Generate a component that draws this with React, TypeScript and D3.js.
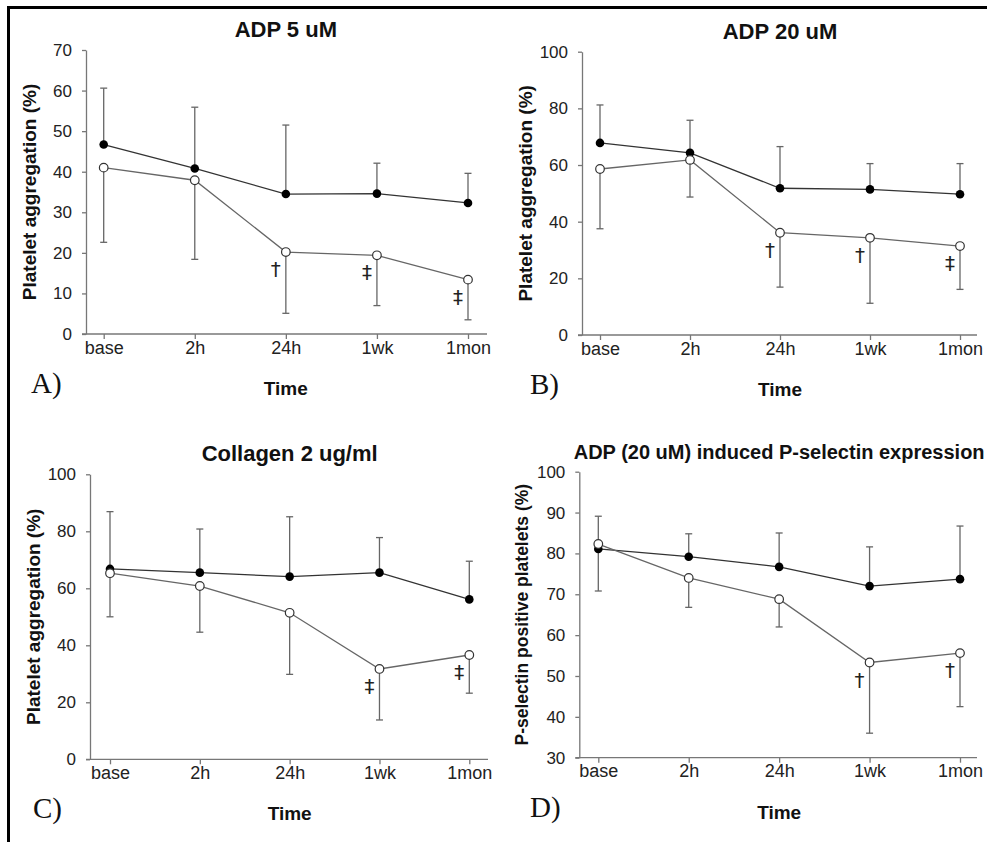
import React, { useRef, useEffect } from "react";
import { select, scalePoint, scaleLinear, axisLeft, axisBottom, line, range } from "d3";

const categories = ["base", "2h", "24h", "1wk", "1mon"];

// ADP 5 uM
const adp5Filled = [46.7, 40.8, 34.5, 34.6, 32.3];
const adp5FilledSd = [13.9, 15.1, 17.0, 7.5, 7.3];
const adp5Open = [41.0, 37.9, 20.2, 19.4, 13.4];
const adp5OpenSd = [18.4, 19.5, 15.1, 12.4, 9.9];
const adp5Marks = ["", "", "†", "‡", "‡"];
const adp5Ticks = range(0, 71, 10);

// ADP 20 uM
const adp20Filled = [67.8, 64.3, 51.8, 51.4, 49.7];
const adp20FilledSd = [13.4, 11.5, 14.7, 9.1, 10.8];
const adp20Open = [58.6, 61.8, 36.1, 34.3, 31.4];
const adp20OpenSd = [21.1, 13.1, 19.2, 23.1, 15.3];
const adp20Marks = ["", "", "†", "†", "‡"];
const adp20Ticks = range(0, 101, 20);

// Collagen 2 ug/ml
const collFilled = [66.8, 65.5, 64.1, 65.5, 56.1];
const collFilledSd = [20.1, 15.3, 21.0, 12.3, 13.4];
const collOpen = [65.3, 60.8, 51.4, 31.7, 36.6];
const collOpenSd = [15.3, 16.2, 21.6, 17.9, 13.4];
const collMarks = ["", "", "", "‡", "‡"];
const collTicks = range(0, 101, 20);

// ADP (20 uM) induced P-selectin expression
const pselFilled = [81.1, 79.2, 76.7, 72.0, 73.7];
const pselFilledSd = [8.0, 5.6, 8.3, 9.6, 13.0];
const pselOpen = [82.3, 74.0, 68.8, 53.3, 55.6];
const pselOpenSd = [11.5, 7.2, 6.8, 17.3, 13.1];
const pselMarks = ["", "", "", "†", "†"];
const pselTicks = range(30, 101, 10);

const SANS = "'Liberation Sans', Arial, sans-serif";
const SERIF = "'Liberation Serif', 'Times New Roman', serif";

const panels = [
  {
    title: "ADP 5 uM", titleSize: 22, yLabel: "Platelet aggregation (%)", yLabelSize: 19, letter: "A)",
    filled: adp5Filled, filledSd: adp5FilledSd, open: adp5Open, openSd: adp5OpenSd, marks: adp5Marks,
    ticks: adp5Ticks, domain: [0, 70],
    axisX: 86, yTop: 50, yBottom: 334, xFirst: 103.7, xLast: 468, xEnd: 487, letterX: 31,
  },
  {
    title: "ADP 20 uM", titleSize: 22, yLabel: "Platelet aggregation (%)", yLabelSize: 19, letter: "B)",
    filled: adp20Filled, filledSd: adp20FilledSd, open: adp20Open, openSd: adp20OpenSd, marks: adp20Marks,
    ticks: adp20Ticks, domain: [0, 100],
    axisX: 582, yTop: 51.7, yBottom: 335, xFirst: 600, xLast: 960, xEnd: 977, letterX: 530,
  },
  {
    title: "Collagen 2 ug/ml", titleSize: 22, yLabel: "Platelet aggregation (%)", yLabelSize: 19, letter: "C)",
    filled: collFilled, filledSd: collFilledSd, open: collOpen, openSd: collOpenSd, marks: collMarks,
    ticks: collTicks, domain: [0, 100],
    axisX: 90, yTop: 474.3, yBottom: 759.3, xFirst: 110, xLast: 469.3, xEnd: 488, letterX: 33,
  },
  {
    title: "ADP (20 uM) induced P-selectin expression", titleSize: 20,
    yLabel: "P-selectin positive platelets (%)", yLabelSize: 17.5, letter: "D)",
    filled: pselFilled, filledSd: pselFilledSd, open: pselOpen, openSd: pselOpenSd, marks: pselMarks,
    ticks: pselTicks, domain: [30, 100],
    axisX: 579.3, yTop: 471.7, yBottom: 757.7, xFirst: 598.3, xLast: 960, xEnd: 977, letterX: 530,
  },
];

function App() {
  const svgRef = useRef<SVGSVGElement>(null);

  useEffect(() => {
    const svg = select(svgRef.current);
    svg.selectAll("*").remove();

    svg.append("rect").attr("width", 987).attr("height", 842).attr("fill", "#fff");

    // frame
    svg.append("line").attr("x1", 7).attr("x2", 987).attr("y1", 7.5).attr("y2", 7.5)
      .attr("stroke", "#000").attr("stroke-width", 3);
    svg.append("line").attr("x1", 8.5).attr("x2", 8.5).attr("y1", 6).attr("y2", 842)
      .attr("stroke", "#000").attr("stroke-width", 3);

    panels.forEach((p) => {
      const g = svg.append("g");
      const x = scalePoint<string>().domain(categories).range([p.xFirst, p.xLast]);
      const y = scaleLinear().domain(p.domain).range([p.yBottom, p.yTop]);
      const midX = (p.xFirst + p.xLast) / 2;

      // y axis
      const yAxis = axisLeft(y).tickValues(p.ticks).tickSizeInner(4).tickSizeOuter(0).tickPadding(10);
      const ya = g.append("g").attr("transform", `translate(${p.axisX},0)`).call(yAxis);
      ya.select(".domain").attr("stroke", "#777").attr("stroke-width", 1.3);
      ya.selectAll(".tick line").attr("stroke", "#777").attr("stroke-width", 1.3);
      ya.selectAll(".tick text").attr("font-family", SANS).attr("font-size", 17).attr("fill", "#222");

      // x axis
      const xAxis = axisBottom(x).tickSizeInner(5).tickSizeOuter(0).tickPadding(2);
      const xa = g.append("g").attr("transform", `translate(0,${p.yBottom})`).call(xAxis);
      xa.select(".domain").remove();
      xa.append("line").attr("x1", p.axisX - 4).attr("x2", p.xEnd).attr("y1", 0).attr("y2", 0)
        .attr("stroke", "#777").attr("stroke-width", 1.3);
      xa.selectAll(".tick line").attr("stroke", "#777").attr("stroke-width", 1.3);
      xa.selectAll(".tick text").attr("font-family", SANS).attr("font-size", 18).attr("fill", "#222");

      // title
      g.append("text").attr("x", midX).attr("y", p.yTop - 13).attr("text-anchor", "middle")
        .attr("font-family", SANS).attr("font-weight", "bold").attr("font-size", p.titleSize)
        .attr("fill", "#111").text(p.title);

      // y label
      const cy = (p.yTop + p.yBottom) / 2;
      g.append("text").attr("transform", `translate(${p.axisX - 57},${cy}) rotate(-90)`)
        .attr("text-anchor", "middle").attr("dominant-baseline", "central")
        .attr("font-family", SANS).attr("font-weight", "bold").attr("font-size", p.yLabelSize)
        .attr("fill", "#111").text(p.yLabel);

      // x label
      g.append("text").attr("x", midX).attr("y", p.yBottom + 61).attr("text-anchor", "middle")
        .attr("font-family", SANS).attr("font-weight", "bold").attr("font-size", 19)
        .attr("fill", "#111").text("Time");

      // panel letter
      g.append("text").attr("x", p.letterX).attr("y", p.yBottom + 59)
        .attr("font-family", SERIF).attr("font-size", 29).attr("fill", "#111").text(p.letter);

      const errColor = "#666";
      const cap = 3.5;

      // error bars: filled upward, open downward
      const bars = [
        ...p.filled.map((v, i) => ({ c: categories[i], v, e: v + p.filledSd[i] })),
        ...p.open.map((v, i) => ({ c: categories[i], v, e: v - p.openSd[i] })),
      ];
      const eb = g.append("g").attr("stroke", errColor).attr("stroke-width", 1.3);
      eb.selectAll(".stem").data(bars).join("line").attr("class", "stem")
        .attr("x1", (d) => x(d.c)!).attr("x2", (d) => x(d.c)!)
        .attr("y1", (d) => y(d.v)).attr("y2", (d) => y(d.e));
      eb.selectAll(".cap").data(bars).join("line").attr("class", "cap")
        .attr("x1", (d) => x(d.c)! - cap).attr("x2", (d) => x(d.c)! + cap)
        .attr("y1", (d) => y(d.e)).attr("y2", (d) => y(d.e));

      const ln = line<number>().x((_, i) => x(categories[i])!).y((d) => y(d));

      g.append("path").datum(p.filled).attr("d", ln).attr("fill", "none")
        .attr("stroke", "#333").attr("stroke-width", 1.3);
      g.append("path").datum(p.open).attr("d", ln).attr("fill", "none")
        .attr("stroke", "#666").attr("stroke-width", 1.3);

      g.selectAll(".dotF").data(p.filled).join("circle").attr("class", "dotF")
        .attr("cx", (_, i) => x(categories[i])!).attr("cy", (d) => y(d)).attr("r", 4.3)
        .attr("fill", "#000");
      g.selectAll(".dotO").data(p.open).join("circle").attr("class", "dotO")
        .attr("cx", (_, i) => x(categories[i])!).attr("cy", (d) => y(d)).attr("r", 4.3)
        .attr("fill", "#fff").attr("stroke", "#333").attr("stroke-width", 1.2);

      // significance marks
      g.selectAll(".mark").data(p.open).join("text").attr("class", "mark")
        .attr("x", (_, i) => x(categories[i])! - 10).attr("y", (d) => y(d) + 17)
        .attr("text-anchor", "middle").attr("dominant-baseline", "central")
        .attr("font-family", "'DejaVu Sans', sans-serif").attr("font-size", 20).attr("fill", "#222")
        .text((_, i) => p.marks[i]);
    });
  }, []);

  return (
    <svg ref={svgRef} width={987} height={842}
      style={{ position: "absolute", left: 0, top: 0, display: "block" }} />
  );
}

export default App;
